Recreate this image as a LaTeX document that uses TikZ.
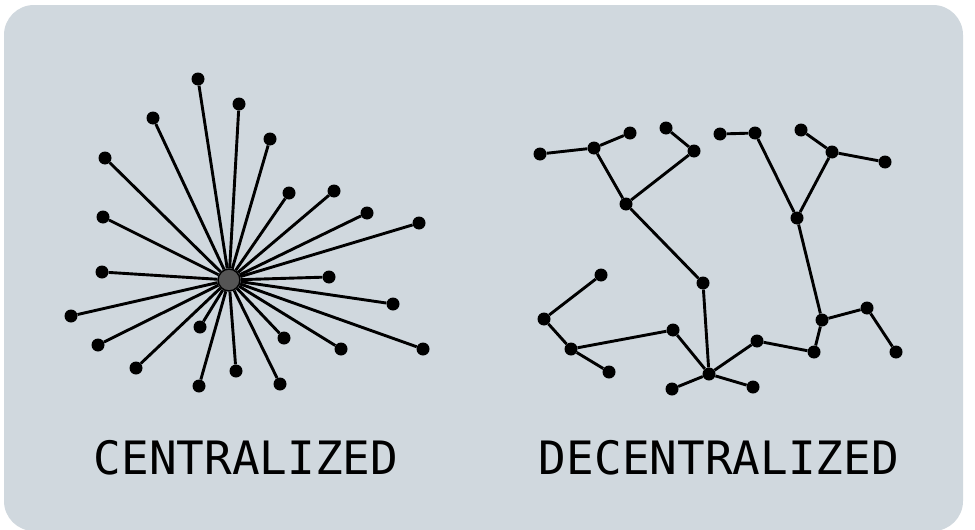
\documentclass[tikz,border=0pt]{standalone}
\usepackage{fontspec}
\newfontfamily\labelfont{DejaVu Sans Mono}
\usetikzlibrary{shapes.geometric}
\definecolor{panel}{RGB}{208,216,222}
\definecolor{hubgray}{RGB}{85,85,85}
\tikzstyle{leaf} = [circle, fill=black, minimum size=13pt, inner sep=0pt]
\tikzstyle{hub} = [circle, draw=black, line width=1.5pt, fill=hubgray, minimum size=22pt, inner sep=0pt]
\tikzstyle{link} = [line width=2.9pt, black]
\tikzstyle{title} = [anchor=base, inner sep=0pt, font=\labelfont\fontsize{46}{50}\selectfont]

\begin{document}
\begin{tikzpicture}[x=1pt, y=-1pt]
      \useasboundingbox (0,0) rectangle (975,530);
      \fill[white] (0,0) rectangle (975,530);
      \fill[panel, rounded corners=30pt] (4,5) rectangle (963,531);
      % centralized
      \node (hub) [hub] at (229,280) {};
      \node (c1) [leaf] at (198,79) {};
      \node (c2) [leaf] at (239,104) {};
      \node (c3) [leaf] at (153,118) {};
      \node (c4) [leaf] at (270,139) {};
      \node (c5) [leaf] at (105,158) {};
      \node (c6) [leaf] at (289,193) {};
      \node (c7) [leaf] at (334,191) {};
      \node (c8) [leaf] at (367,213) {};
      \node (c9) [leaf] at (419,223) {};
      \node (c10) [leaf] at (103,217) {};
      \node (c11) [leaf] at (102,272) {};
      \node (c12) [leaf] at (329,277) {};
      \node (c13) [leaf] at (393,304) {};
      \node (c14) [leaf] at (71,316) {};
      \node (c15) [leaf] at (98,345) {};
      \node (c16) [leaf] at (200,327) {};
      \node (c17) [leaf] at (284,338) {};
      \node (c18) [leaf] at (341,349) {};
      \node (c19) [leaf] at (423,349) {};
      \node (c20) [leaf] at (136,368) {};
      \node (c21) [leaf] at (236,371) {};
      \node (c22) [leaf] at (199,386) {};
      \node (c23) [leaf] at (280,384) {};
      \draw [link] (hub) -- (c1);
      \draw [link] (hub) -- (c2);
      \draw [link] (hub) -- (c3);
      \draw [link] (hub) -- (c4);
      \draw [link] (hub) -- (c5);
      \draw [link] (hub) -- (c6);
      \draw [link] (hub) -- (c7);
      \draw [link] (hub) -- (c8);
      \draw [link] (hub) -- (c9);
      \draw [link] (hub) -- (c10);
      \draw [link] (hub) -- (c11);
      \draw [link] (hub) -- (c12);
      \draw [link] (hub) -- (c13);
      \draw [link] (hub) -- (c14);
      \draw [link] (hub) -- (c15);
      \draw [link] (hub) -- (c16);
      \draw [link] (hub) -- (c17);
      \draw [link] (hub) -- (c18);
      \draw [link] (hub) -- (c19);
      \draw [link] (hub) -- (c20);
      \draw [link] (hub) -- (c21);
      \draw [link] (hub) -- (c22);
      \draw [link] (hub) -- (c23);
      \node (cent) [title] at (246,474) {CENTRALIZED};
      % decentralized
      \node (d1) [leaf] at (540,154) {};
      \node (d2) [leaf] at (594,148) {};
      \node (d3) [leaf] at (630,133) {};
      \node (d4) [leaf] at (666,128) {};
      \node (d5) [leaf] at (694,151) {};
      \node (d6) [leaf] at (626,204) {};
      \node (d7) [leaf] at (720,134) {};
      \node (d8) [leaf] at (755,133) {};
      \node (d9) [leaf] at (801,130) {};
      \node (d10) [leaf] at (832,152) {};
      \node (d11) [leaf] at (885,162) {};
      \node (d12) [leaf] at (797,218) {};
      \node (d13) [leaf] at (703,283) {};
      \node (d14) [leaf] at (601,275) {};
      \node (d15) [leaf] at (544,319) {};
      \node (d16) [leaf] at (571,349) {};
      \node (d17) [leaf] at (609,372) {};
      \node (d18) [leaf] at (673,330) {};
      \node (d19) [leaf] at (709,374) {};
      \node (d20) [leaf] at (672,389) {};
      \node (d21) [leaf] at (753,387) {};
      \node (d22) [leaf] at (757,341) {};
      \node (d23) [leaf] at (814,352) {};
      \node (d24) [leaf] at (822,320) {};
      \node (d25) [leaf] at (867,308) {};
      \node (d26) [leaf] at (896,352) {};
      \draw [link] (d1) -- (d2);
      \draw [link] (d2) -- (d3);
      \draw [link] (d2) -- (d6);
      \draw [link] (d6) -- (d5);
      \draw [link] (d5) -- (d4);
      \draw [link] (d6) -- (d13);
      \draw [link] (d13) -- (d19);
      \draw [link] (d7) -- (d8);
      \draw [link] (d8) -- (d12);
      \draw [link] (d9) -- (d10);
      \draw [link] (d10) -- (d11);
      \draw [link] (d10) -- (d12);
      \draw [link] (d12) -- (d24);
      \draw [link] (d24) -- (d25);
      \draw [link] (d25) -- (d26);
      \draw [link] (d24) -- (d23);
      \draw [link] (d23) -- (d22);
      \draw [link] (d22) -- (d19);
      \draw [link] (d19) -- (d20);
      \draw [link] (d19) -- (d21);
      \draw [link] (d19) -- (d18);
      \draw [link] (d18) -- (d16);
      \draw [link] (d16) -- (d15);
      \draw [link] (d15) -- (d14);
      \draw [link] (d16) -- (d17);
      \node (decent) [title] at (719,474) {DECENTRALIZED};
    \end{tikzpicture}
\end{document}
